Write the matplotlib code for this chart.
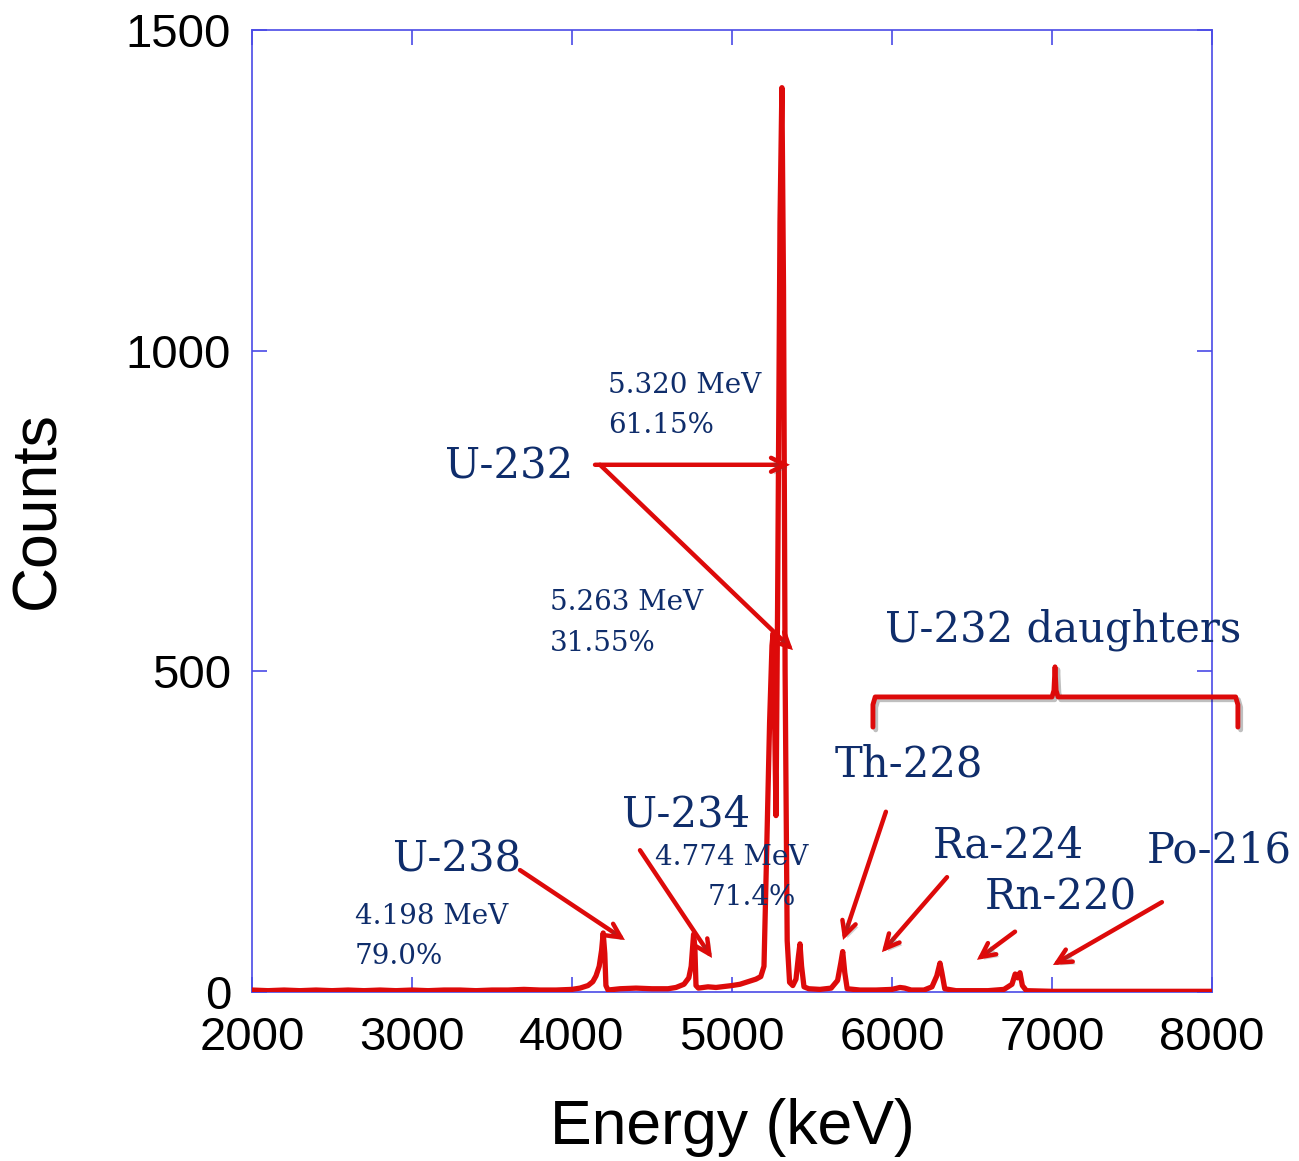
import matplotlib.pyplot as plt
import matplotlib.patheffects as pe

# alpha spectrum (keV, counts)
energy = [2000, 2100, 2200, 2300, 2400, 2500, 2600, 2700, 2800, 2900,
          3000, 3100, 3200, 3300, 3400, 3500, 3600, 3700, 3800, 3900,
          4000, 4050, 4100, 4130, 4150, 4170, 4185, 4195, 4205, 4212,
          4225, 4300, 4400, 4500, 4600, 4650, 4700, 4730, 4745, 4760,
          4768, 4775, 4790, 4850, 4900, 5000, 5050, 5100, 5150, 5180,
          5200, 5215, 5235, 5250, 5258, 5265, 5275, 5285, 5300, 5312,
          5322, 5332, 5345, 5360, 5380, 5400, 5415, 5425, 5435, 5450,
          5480, 5550, 5620, 5660, 5680, 5692, 5705, 5720, 5800, 5900,
          6000, 6050, 6080, 6120, 6200, 6250, 6280, 6300, 6312, 6330,
          6400, 6500, 6600, 6700, 6750, 6770, 6785, 6800, 6815, 6840,
          7000, 7200, 7400, 7600, 7800, 8000]
counts = [3, 2, 3, 2, 3, 2, 3, 2, 3, 2,
          3, 2, 3, 3, 2, 3, 3, 4, 3, 3,
          4, 6, 10, 16, 25, 40, 65, 92, 60, 10,
          3, 5, 6, 5, 5, 7, 12, 22, 40, 90,
          70, 10, 6, 8, 7, 10, 12, 16, 20, 24,
          40, 200, 420, 540, 560, 450, 275, 600, 1200, 1410,
          1100, 500, 80, 15, 10, 20, 55, 75, 40, 8,
          5, 4, 6, 18, 45, 63, 30, 5, 3, 3,
          4, 7, 6, 3, 3, 8, 25, 45, 30, 5,
          2, 2, 2, 4, 12, 28, 22, 30, 10, 2,
          1, 1, 1, 1, 1, 1]

# isotope labels: (text, x keV, y counts)
big_labels = [('U-232', 3206, 820), ('U-238', 2881, 206), ('U-234', 4312, 276),
              ('Th-228', 5644, 354), ('Ra-224', 6256, 229), ('Rn-220', 6581, 147),
              ('Po-216', 7594, 220), ('U-232 daughters', 5956, 564)]
small_labels = [('5.320 MeV', 4225, 946), ('61.15%', 4225, 884),
                ('5.263 MeV', 3862, 607), ('31.55%', 3862, 544),
                ('4.198 MeV', 2644, 118), ('79.0%', 2644, 56),
                ('4.774 MeV', 4519, 209), ('71.4%', 4850, 147)]
# arrows: (tail, head)
arrows = [((4144, 822), (5362, 822)), ((4175, 822), (5381, 533)),
          ((3675, 190), (4331, 81)), ((4425, 221), (4875, 53)),
          ((5962, 281), (5694, 81)), ((6344, 179), (5937, 62)),
          ((6769, 94), (6531, 50)), ((7687, 140), (7006, 42))]

red = '#dd0a0a'
navy = '#0f2d6b'
frame = '#4a4ae6'

fig = plt.figure(figsize=(12.99, 11.61), dpi=100)
ax = fig.add_axes([0.194, 0.1456, 0.739, 0.8286])

ax.plot(energy, counts, color=red, lw=3.8, solid_joinstyle='round', zorder=3)

ax.set_xlim(2000, 8000)
ax.set_ylim(0, 1500)
ax.set_xticks(range(2000, 8001, 1000))
ax.set_yticks([0, 500, 1000, 1500])
for s in ax.spines.values():
    s.set_color(frame)
    s.set_linewidth(1.2)
ax.tick_params(direction='in', length=11, width=1.2, color=frame,
               top=True, right=True, labelsize=34)
ax.tick_params(axis='x', pad=17)
ax.tick_params(axis='y', pad=15)
for lab in ax.get_xticklabels() + ax.get_yticklabels():
    lab.set_family('Liberation Sans')

ax.set_xlabel('Energy (keV)', fontsize=45, family='Liberation Sans', va='center')
ax.set_ylabel('Counts', fontsize=45, family='Liberation Sans', va='center')
ax.xaxis.set_label_coords(0.5, -0.141)
ax.yaxis.set_label_coords(-0.223, 0.501)

shadow = [pe.SimplePatchShadow(offset=(2, -2), alpha=0.25), pe.Normal()]
for (tail, head) in arrows:
    ax.annotate('', xy=head, xytext=tail, annotation_clip=False,
                arrowprops=dict(arrowstyle='->,head_length=1.0,head_width=0.5',
                                lw=3.2, color=red, shrinkA=0, shrinkB=0,
                                capstyle='round', joinstyle='miter',
                                path_effects=shadow), zorder=4)

for txt, x, y in big_labels:
    ax.text(x, y, txt, fontsize=30, family='DejaVu Serif', color=navy,
            va='center', ha='left', clip_on=False, zorder=5)
for txt, x, y in small_labels:
    ax.text(x, y, txt, fontsize=20, family='DejaVu Serif', color=navy,
            va='center', ha='left', clip_on=False, zorder=5)

# curly brace over the daughter peaks
bx = [5881, 5881, 5895, 7000, 7012, 7019, 7026, 7038, 8148, 8162, 8162]
by = [413, 448, 460, 460, 470, 507, 470, 460, 460, 448, 413]
ax.plot(bx, by, color=red, lw=3.5, clip_on=False, zorder=4,
        solid_capstyle='round', solid_joinstyle='round',
        path_effects=[pe.SimpleLineShadow(offset=(2, -2), alpha=0.25), pe.Normal()])

fig.savefig('out.png', dpi=100)
